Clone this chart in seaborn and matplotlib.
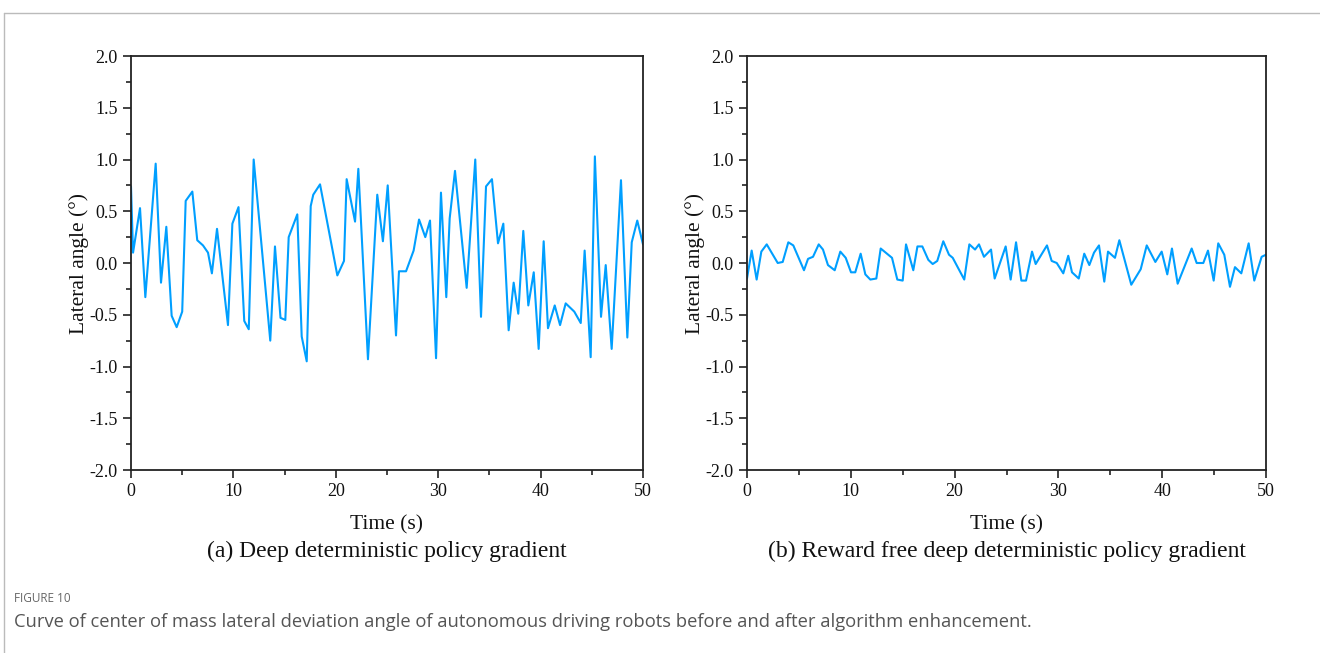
import numpy as np
import pandas as pd
import matplotlib
matplotlib.use("Agg")
import matplotlib.pyplot as plt
import seaborn as sns
from matplotlib.lines import Line2D
from matplotlib.ticker import MultipleLocator

# (a) DDPG - time (s) and lateral angle (deg)
t_ddpg = [0.0, 0.2, 0.88, 1.4, 2.41, 2.93, 3.45, 3.97, 4.46, 5.0, 5.34, 5.99, 6.47,
          7.03, 7.52, 7.9, 8.4, 9.47, 9.9, 10.5, 11.06, 11.5, 11.98, 13.6, 14.06,
          14.6, 15.07, 15.4, 16.24, 16.67, 17.16, 17.55, 17.8, 18.46, 20.15, 20.8,
          21.06, 21.88, 22.2, 23.14, 24.05, 24.6, 25.07, 25.88, 26.17, 26.86, 27.6,
          28.13, 28.74, 29.2, 29.79, 30.27, 30.79, 31.12, 31.64, 32.78, 33.62, 34.18,
          34.67, 35.25, 35.84, 36.36, 36.88, 37.37, 37.82, 38.31, 38.8, 39.33, 39.81,
          40.3, 40.72, 41.38, 41.9, 42.45, 43.29, 43.92, 44.3, 44.89, 45.3, 45.9,
          46.36, 46.94, 47.85, 48.47, 48.9, 49.44, 50.0]
a_ddpg = [0.74, 0.10, 0.53, -0.33, 0.96, -0.19, 0.35, -0.51, -0.62, -0.47, 0.60, 0.69, 0.22,
          0.17, 0.10, -0.10, 0.33, -0.60, 0.38, 0.54, -0.56, -0.64, 1.00, -0.75, 0.16,
          -0.53, -0.55, 0.25, 0.47, -0.71, -0.95, 0.55, 0.66, 0.76, -0.12, 0.02,
          0.81, 0.40, 0.91, -0.93, 0.66, 0.21, 0.75, -0.70, -0.08, -0.08, 0.12,
          0.42, 0.25, 0.41, -0.92, 0.68, -0.33, 0.43, 0.89, -0.24, 1.00, -0.52,
          0.74, 0.81, 0.19, 0.38, -0.65, -0.19, -0.49, 0.31, -0.41, -0.09, -0.83,
          0.21, -0.63, -0.41, -0.60, -0.39, -0.47, -0.58, 0.12, -0.91, 1.03, -0.52,
          -0.02, -0.83, 0.80, -0.72, 0.20, 0.41, 0.18]

# (b) reward free DDPG
t_rf = [0.0, 0.45, 0.93, 1.38, 1.90, 2.96, 3.44, 3.98, 4.46, 5.49, 5.88, 6.36, 6.91,
        7.32, 7.8, 8.45, 8.99, 9.51, 10.02, 10.43, 10.95, 11.4, 11.88, 12.46, 12.88,
        13.97, 14.48, 15.0, 15.32, 16.02, 16.42, 16.89, 17.47, 17.89, 18.33, 18.91,
        19.46, 19.82, 20.93, 21.42, 21.97, 22.35, 22.83, 23.51, 23.86, 24.92, 25.4,
        25.92, 26.43, 26.88, 27.46, 27.81, 28.9, 29.35, 29.84, 30.47, 30.95, 31.31,
        31.96, 32.49, 32.98, 33.43, 33.91, 34.42, 34.78, 35.45, 35.87, 37.02, 37.93,
        38.51, 39.34, 39.95, 40.49, 40.94, 41.49, 42.84, 43.32, 43.96, 44.41, 44.96,
        45.4, 45.98, 46.53, 47.01, 47.62, 48.33, 48.87, 49.58, 50.0]
a_rf = [-0.15, 0.12, -0.16, 0.11, 0.18, 0.00, 0.01, 0.20, 0.17, -0.07, 0.04, 0.06, 0.18,
        0.13, -0.02, -0.07, 0.11, 0.05, -0.09, -0.09, 0.09, -0.11, -0.16, -0.15, 0.14,
        0.05, -0.16, -0.17, 0.18, -0.07, 0.16, 0.16, 0.03, -0.01, 0.02, 0.21,
        0.08, 0.05, -0.16, 0.18, 0.13, 0.18, 0.06, 0.13, -0.15, 0.16, -0.16,
        0.20, -0.17, -0.17, 0.11, -0.01, 0.17, 0.02, 0.00, -0.10, 0.07, -0.09,
        -0.15, 0.09, -0.02, 0.10, 0.17, -0.18, 0.11, 0.05, 0.22, -0.21, -0.06,
        0.17, 0.01, 0.11, -0.11, 0.14, -0.20, 0.14, 0.00, 0.00, 0.12, -0.17,
        0.19, 0.08, -0.23, -0.04, -0.10, 0.19, -0.17, 0.06, 0.08]

subtitles = ["(a) Deep deterministic policy gradient",
             "(b) Reward free deep deterministic policy gradient"]
x_label = "Time (s)"
y_label = "Lateral angle (°)"
fig_label = "FIGURE 10"
caption = ("Curve of center of mass lateral deviation angle of autonomous driving "
           "robots before and after algorithm enhancement.")

sns.set_style("ticks")
plt.rcParams["font.family"] = ["Liberation Serif", "DejaVu Serif"]

line_color = "#009FFF"
spine_color = "#222222"

fig = plt.figure(figsize=(13.2, 6.53), dpi=100)
W, H = 1320, 653

def make_ax(x0, x1, y0=56, y1=470):
    return fig.add_axes([x0 / W, 1 - y1 / H, (x1 - x0) / W, (y1 - y0) / H])

axes = [make_ax(131, 643), make_ax(747, 1266)]
data = [pd.DataFrame({"t": t_ddpg, "a": a_ddpg}), pd.DataFrame({"t": t_rf, "a": a_rf})]

for ax, df, sub in zip(axes, data, subtitles):
    sns.lineplot(data=df, x="t", y="a", ax=ax, color=line_color, linewidth=1.5,
                 estimator=None, sort=False)
    ax.set_xlim(0, 50)
    ax.set_ylim(-2.0, 2.0)
    ax.xaxis.set_major_locator(MultipleLocator(10))
    ax.xaxis.set_minor_locator(MultipleLocator(5))
    ax.yaxis.set_major_locator(MultipleLocator(0.5))
    ax.yaxis.set_minor_locator(MultipleLocator(0.25))
    ax.yaxis.set_major_formatter(matplotlib.ticker.FormatStrFormatter("%.1f"))
    ax.tick_params(which="major", direction="out", length=6, width=1.2,
                   color=spine_color, labelsize=13, labelcolor="#111111", pad=3.5)
    ax.tick_params(which="minor", direction="out", length=3.5, width=1.2,
                   color=spine_color)
    for s in ax.spines.values():
        s.set_visible(True)
        s.set_linewidth(1.3)
        s.set_color(spine_color)
    ax.set_xlabel(x_label, fontsize=15.5, color="#111111", labelpad=11)
    ax.set_ylabel(y_label, fontsize=15.5, color="#111111", labelpad=0.5)
    ax.text(0.5, -0.196, sub, transform=ax.transAxes, ha="center", va="center",
            fontsize=17, color="#111111")

# frame around the figure panel
fig.add_artist(Line2D([3.5 / W, 1.0], [1 - 12.5 / H, 1 - 12.5 / H],
                      color="#bbbbbb", linewidth=1.0))
fig.add_artist(Line2D([3.5 / W, 3.5 / W], [0.0, 1 - 12.5 / H],
                      color="#bbbbbb", linewidth=1.0))

fig.text(14 / W, 1 - 598 / H, fig_label, family=["Open Sans", "DejaVu Sans"],
         fontsize=8.5, color="#666666", va="center", ha="left")
fig.text(14 / W, 1 - 622 / H, caption, family=["Open Sans", "DejaVu Sans"],
         fontsize=13.2, color="#555555", va="center", ha="left")

fig.savefig("out.png", dpi=100)
plt.close(fig)
